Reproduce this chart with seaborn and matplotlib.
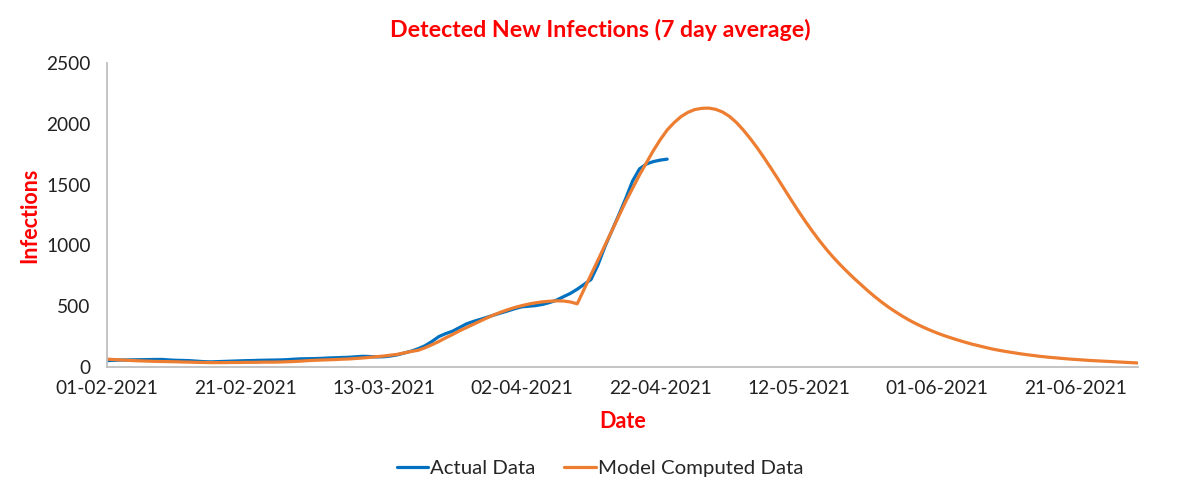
import pandas as pd
import numpy as np
import matplotlib.pyplot as plt
import matplotlib.dates as mdates
import seaborn as sns

## data (daily values starting 01-02-2021)
start_date = '2021-02-01'

actual_data = [52, 55, 57, 58, 59, 60, 61, 62, 62, 58,
               55, 54, 52, 48, 44, 42, 44, 46, 48, 50,
               52, 53, 55, 56, 57, 58, 60, 64, 67, 68,
               69, 71, 74, 76, 78, 80, 84, 88, 86, 83,
               84, 90, 100, 115, 130, 150, 175, 210, 250, 275,
               295, 325, 355, 375, 392, 410, 428, 445, 462, 480,
               495, 500, 505, 515, 530, 550, 578, 605, 640, 680,
               720, 840, 990, 1120, 1250, 1385, 1530, 1630, 1670, 1690,
               1702, 1710]

model_data = [65, 61, 58, 55, 52, 50, 48, 46, 45, 44,
              43, 41, 40, 38, 37, 36, 36, 36, 37, 37,
              38, 38, 39, 40, 40, 41, 43, 45, 48, 52,
              55, 57, 59, 61, 64, 66, 70, 74, 79, 85,
              90, 97, 104, 116, 128, 137, 158, 183, 210, 240,
              268, 298, 325, 352, 380, 405, 430, 452, 472, 490,
              505, 518, 528, 536, 541, 544, 543, 535, 520, 640,
              760, 880, 1000, 1120, 1240, 1360, 1470, 1580, 1680, 1780,
              1870, 1950, 2010, 2060, 2095, 2118, 2128, 2130, 2120, 2098,
              2062, 2012, 1950, 1880, 1804, 1722, 1636, 1548, 1458, 1368,
              1280, 1196, 1116, 1040, 969, 903, 842, 785, 730, 678,
              627, 579, 534, 492, 454, 418, 385, 355, 328, 303,
              280, 259, 240, 222, 205, 189, 175, 161, 148, 137,
              127, 118, 109, 101, 94, 87, 81, 76, 71, 66,
              62, 58, 54, 51, 48, 45, 42, 39, 36, 33]

actual_df = pd.DataFrame({'Date': pd.date_range(start_date, periods=len(actual_data), freq='D'),
                          'Infections': actual_data})
model_df = pd.DataFrame({'Date': pd.date_range(start_date, periods=len(model_data), freq='D'),
                         'Infections': model_data})

sns.set_theme(style="white")
plt.rcParams['font.family'] = ['Lato', 'DejaVu Sans']

fig = plt.figure(figsize=(12, 4.97), dpi=100)
ax = fig.add_axes([0.089, 0.2616, 0.859, 0.6114])

sns.lineplot(data=actual_df, x='Date', y='Infections', ax=ax, color='#0070C0',
             linewidth=2.3, label='Actual Data')
sns.lineplot(data=model_df, x='Date', y='Infections', ax=ax, color='#ED7D31',
             linewidth=2.3, label='Model Computed Data')

ax.set_xlim(model_df['Date'].iloc[0], model_df['Date'].iloc[-1])
ax.set_ylim(0, 2500)
ax.set_yticks(range(0, 2501, 500))
ax.set_xticks(pd.date_range(start_date, periods=8, freq='20D'))
ax.xaxis.set_major_formatter(mdates.DateFormatter('%d-%m-%Y'))

for side in ['top', 'right']:
    ax.spines[side].set_visible(False)
for side in ['left', 'bottom']:
    ax.spines[side].set_color('#BFBFBF')
    ax.spines[side].set_linewidth(1.3)
ax.tick_params(axis='both', which='major', direction='out', length=3.6, width=1.1,
               color='#BFBFBF', labelsize=13.8, labelcolor='#222222')
ax.tick_params(axis='x', pad=6)
ax.tick_params(axis='y', pad=8)
ax.grid(False)

## title and legend are centred on the whole figure, not on the axes
fig.text(0.5, 0.94, 'Detected New Infections (7 day average)', color='#FF0000',
         fontsize=16.7, fontweight='bold', ha='center', va='center')
ax.set_xlabel('Date', color='#FF0000', fontsize=15.5, fontweight='bold', labelpad=10)
ax.set_ylabel('Infections', color='#FF0000', fontsize=15.5, fontweight='bold', labelpad=4)

ax.get_legend().remove()
handles, labels = ax.get_legend_handles_labels()
fig.legend(handles, labels, loc='center', bbox_to_anchor=(0.5, 0.058), ncol=2, frameon=False,
           fontsize=14.7, handlelength=1.55, handletextpad=0.1, columnspacing=1.4)

fig.savefig('out.png', dpi=100)
